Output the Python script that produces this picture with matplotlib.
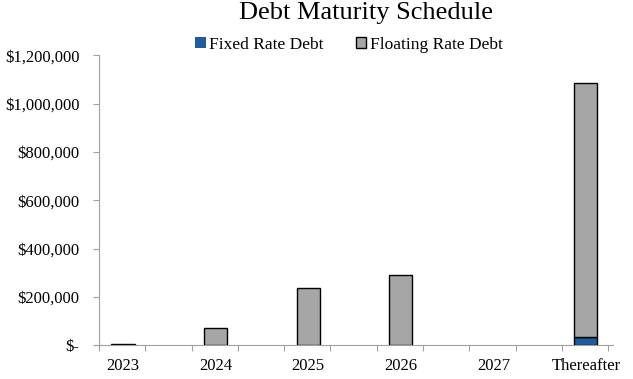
import matplotlib

matplotlib.use("Agg")
import matplotlib.pyplot as plt  # noqa: E402
import numpy as np  # noqa: E402

categories = ["2023", "2024", "2025", "2026", "2027", "Thereafter"]
fixed_rate = [0, 0, 0, 0, 0, 33000]
floating_rate = [5000, 70000, 236000, 290000, 0, 1051000]
y_ticks = [0, 200000, 400000, 600000, 800000, 1000000, 1200000]

plt.rcParams["font.family"] = ["Liberation Serif", "DejaVu Serif"]

fig = plt.figure(figsize=(6.33, 3.79), dpi=100)
ax = fig.add_axes([0.1564, 0.0889, 0.8116, 0.7651])

x = np.arange(len(categories))
w = 0.25
# no outline on empty bars
lw_fixed = [1.0 if v > 0 else 0 for v in fixed_rate]
lw_float = [1.0 if v > 0 else 0 for v in floating_rate]
ax.bar(x, fixed_rate, w, color="#1F5C99", edgecolor="black",
       linewidth=lw_fixed, label="Fixed Rate Debt")
ax.bar(x, floating_rate, w, bottom=fixed_rate, color="#A6A6A6",
       edgecolor="black", linewidth=lw_float, label="Floating Rate Debt")

ax.set_xlim(-0.26, 5.29)
ax.set_ylim(0, 1200000)

ax.set_yticks(y_ticks)
ax.set_yticklabels(["$-"] + [f"${v:,.0f}" for v in y_ticks[1:]])
ax.set_xticks(-0.26 + 0.5 * np.arange(12))
ax.set_xticklabels([])
ax.set_xticks(x, minor=True)
ax.set_xticklabels(categories, minor=True)
ax.tick_params(axis="x", which="minor", length=0, pad=9, labelsize=12)
ax.tick_params(axis="x", which="major", length=4, color="#A0A0A0")
ax.tick_params(axis="y", length=4, color="#A0A0A0", labelsize=12, pad=10)

for s in ["top", "right"]:
    ax.spines[s].set_visible(False)
for s in ["left", "bottom"]:
    ax.spines[s].set_color("#A0A0A0")

fig.text(0.578, 0.966, "Debt Maturity Schedule", ha="center", va="center",
         fontsize=19)
fig.legend(loc="center", bbox_to_anchor=(0.551, 0.882), ncol=2, frameon=False,
           fontsize=12.5, handlelength=0.6, handleheight=0.6,
           handletextpad=0.2, columnspacing=1.85, borderpad=0)

fig.savefig("out.png", dpi=100)
plt.close(fig)
